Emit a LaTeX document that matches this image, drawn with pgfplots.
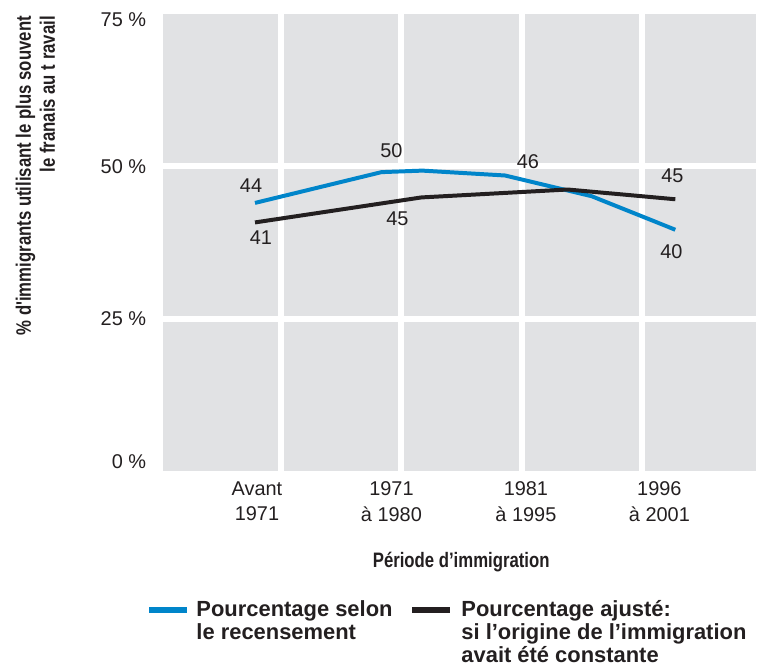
\documentclass[border=0pt]{standalone}
\usepackage{fontspec}
\setmainfont{Liberation Sans}
\newfontfamily\condfont{Liberation Sans}[FakeStretch=0.8]
\usepackage{pgfplots}
\pgfplotsset{compat=1.18}
\definecolor{bggray}{RGB}{225,226,228}
\definecolor{lineblue}{RGB}{0,133,202}
\definecolor{txt}{RGB}{35,31,32}
\begin{document}
\begin{tikzpicture}
\begin{scope}[x=0.75pt,y=-0.75pt,shift={(-164,-473)}]
\useasboundingbox (0,0) rectangle (759,669);
\end{scope}
\begin{axis}[
  scale only axis, width=446.25pt, height=344.25pt,
  xmin=164, xmax=759, ymin=0, ymax=75,
  axis line style={draw=none},
  axis background/.style={fill=bggray},
  major tick length=0pt,
  xtick={258,393,528,662},
  xticklabels={Avant\\1971, 1971\\à 1980, 1981\\à 1995, 1996\\à 2001},
  xticklabel style={align=center, inner sep=0pt, yshift=-7.5pt, font=\fontsize{15}{19.5}\selectfont, text=txt},
  ytick={1.6,25,50,74},
  yticklabels={0 \%, 25 \%, 50 \%, 75 \%},
  yticklabel style={anchor=east, inner sep=0pt, xshift=-12.75pt, font=\fontsize{15}{18}\selectfont, text=txt},
  extra x ticks={282,403,524,644.5},
  extra x tick labels={},
  extra x tick style={grid=major, major grid style={white, line width=4.5pt}},
  extra y ticks={25,50},
  extra y tick labels={},
  extra y tick style={grid=major, major grid style={white, line width=4.5pt}},
  clip=false,
]
\addplot[lineblue, line width=3pt] coordinates {(256,44.0) (383,49.05) (424,49.3) (507,48.5) (594,45.1) (678,39.6)};
\addplot[txt, line width=3pt] coordinates {(256,40.8) (423,44.9) (570,46.2) (678,44.6)};
\end{axis}
\begin{scope}[x=0.75pt,y=-0.75pt,shift={(-164,-473)}, every node/.style={text=txt, inner sep=0pt}]
% data labels
\node[font=\fontsize{15}{18}\selectfont] at (252,186) {44};
\node[font=\fontsize{15}{18}\selectfont] at (393,151) {50};
\node[font=\fontsize{15}{18}\selectfont] at (530,162) {46};
\node[font=\fontsize{15}{18}\selectfont] at (675,176) {45};
\node[font=\fontsize{15}{18}\selectfont] at (262,239) {41};
\node[font=\fontsize{15}{18}\selectfont] at (399,220) {45};
\node[font=\fontsize{15}{18}\selectfont] at (674,253) {40};
% axis titles
\node[anchor=base, font=\condfont\bfseries\fontsize{15.75}{18}\selectfont] at (463,570) {Période d’immigration};
\node[rotate=90, anchor=base east, font=\condfont\bfseries\fontsize{15.75}{18}\selectfont] at (31,16) {\% d'immigrants utilisant le plus souvent};
\node[rotate=90, anchor=base east, font=\condfont\bfseries\fontsize{15.75}{18}\selectfont] at (55,16) {le franais au t ravail};
% legend
\draw[lineblue, line width=4.5pt] (150,612) -- (188,612);
\draw[txt, line width=4.5pt] (414,612) -- (452,612);
\node[anchor=base west, font=\bfseries\fontsize{16.5}{18}\selectfont] at (197,619) {Pourcentage selon};
\node[anchor=base west, font=\bfseries\fontsize{16.5}{18}\selectfont] at (197,642) {le recensement};
\node[anchor=base west, font=\bfseries\fontsize{16.5}{18}\selectfont] at (463,619) {Pourcentage ajusté:};
\node[anchor=base west, font=\bfseries\fontsize{16.5}{18}\selectfont] at (463,642) {si l’origine de l’immigration};
\node[anchor=base west, font=\bfseries\fontsize{16.5}{18}\selectfont] at (463,665) {avait été constante};
\end{scope}
\end{tikzpicture}
\end{document}
